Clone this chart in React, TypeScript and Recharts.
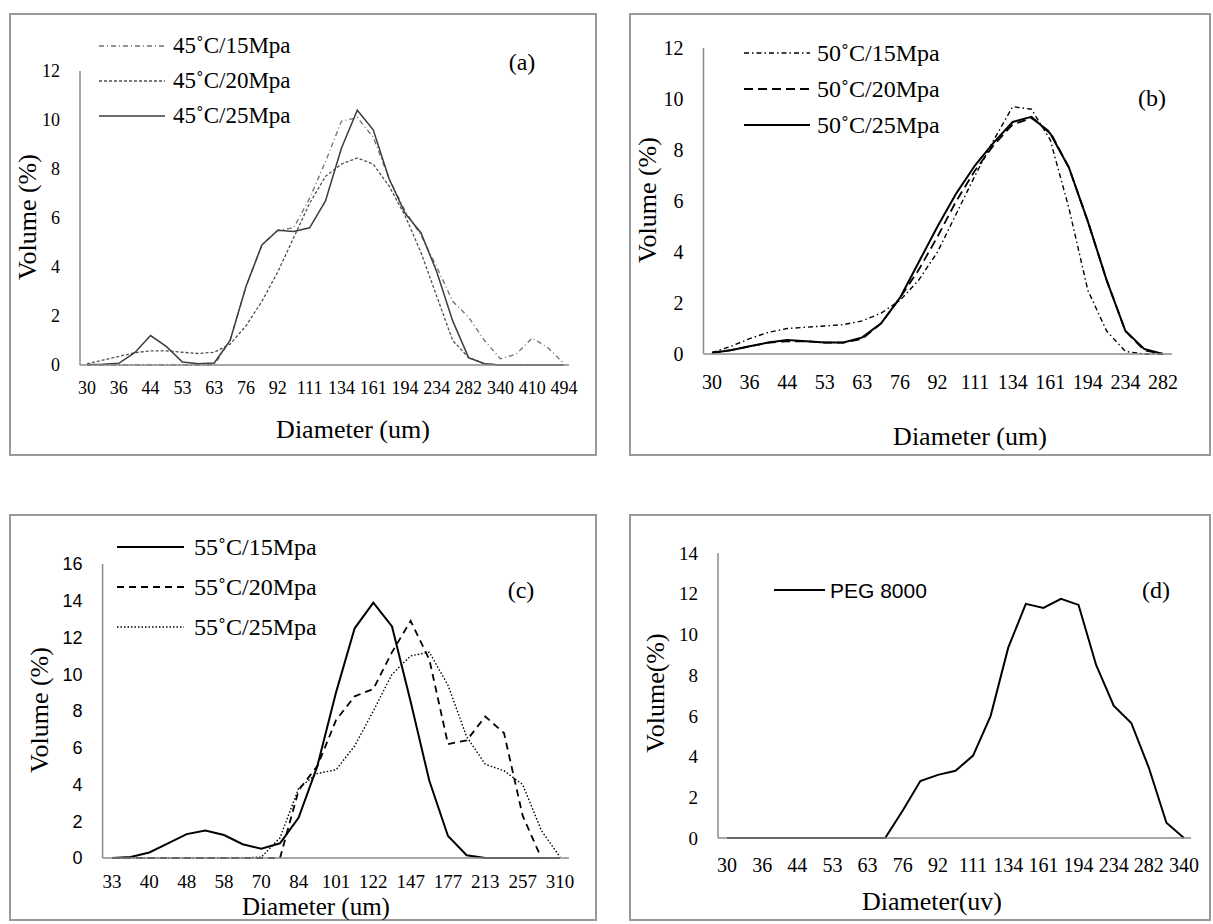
import React from 'react';
import { LineChart, Line, XAxis, YAxis, Legend } from 'recharts';

const SERIF = '"Liberation Serif", "Times New Roman", serif';
const SANS = '"Liberation Sans", Arial, sans-serif';

// (a) 45°C
const diamA = [30, 33, 36, 40, 44, 48, 53, 58, 63, 70, 76, 84, 92, 101, 111, 122, 134, 147, 161, 177, 194, 213, 234, 257, 282, 310, 340, 373, 410, 450, 494];
const a15 = [0, 0, 0, 0, 0, 0, 0, 0, 0, 1.0, 3.2, 4.9, 5.5, 5.6, 6.8, 8.3, 9.95, 10.1, 9.3, 7.6, 6.3, 5.3, 4.0, 2.6, 1.95, 1.0, 0.25, 0.45, 1.1, 0.7, 0.05];
const a20 = [0.05, 0.2, 0.35, 0.5, 0.58, 0.58, 0.52, 0.47, 0.52, 0.85, 1.6, 2.6, 3.8, 5.2, 6.6, 7.7, 8.2, 8.45, 8.2, 7.3, 6.1, 4.6, 2.8, 1.0, 0.3, 0.05, 0, 0, 0, 0, 0];
const a25 = [0.02, 0.03, 0.07, 0.5, 1.2, 0.75, 0.12, 0.05, 0.08, 1.0, 3.2, 4.9, 5.5, 5.45, 5.6, 6.7, 8.85, 10.4, 9.6, 7.6, 6.2, 5.4, 3.8, 1.8, 0.3, 0.05, 0, 0, 0, 0, 0];

// (b) 50°C
const diamB = [30, 33, 36, 40, 44, 48, 53, 58, 63, 70, 76, 84, 92, 101, 111, 122, 134, 147, 161, 177, 194, 213, 234, 257, 282];
const b15 = [0.05, 0.3, 0.6, 0.85, 1.0, 1.05, 1.1, 1.15, 1.3, 1.6, 2.1, 2.9, 4.0, 5.5, 7.0, 8.4, 9.7, 9.6, 8.4, 5.7, 2.5, 0.9, 0.1, 0, 0];
const b20 = [0.05, 0.15, 0.3, 0.45, 0.5, 0.5, 0.45, 0.45, 0.6, 1.2, 2.2, 3.3, 4.6, 6.0, 7.2, 8.2, 9.0, 9.25, 8.7, 7.3, 5.2, 2.9, 0.9, 0.15, 0];
const b25 = [0.05, 0.15, 0.3, 0.45, 0.55, 0.5, 0.45, 0.45, 0.65, 1.2, 2.2, 3.6, 5.0, 6.3, 7.4, 8.3, 9.1, 9.3, 8.65, 7.3, 5.2, 2.9, 0.9, 0.2, 0];

// (c) 55°C
const diamC = [33, 36, 40, 44, 48, 53, 58, 63, 70, 76, 84, 92, 101, 111, 122, 134, 147, 161, 177, 194, 213, 234, 257, 282, 310];
const c15 = [0, 0.05, 0.3, 0.8, 1.3, 1.5, 1.25, 0.75, 0.5, 0.8, 2.2, 5.0, 9.0, 12.5, 13.9, 12.6, 8.5, 4.2, 1.2, 0.15, 0, 0, 0, 0, 0];
const c20 = [0, 0, 0, 0, 0, 0, 0, 0, 0, 0, 3.7, 5.0, 7.5, 8.8, 9.2, 11.2, 12.9, 10.8, 6.2, 6.4, 7.7, 6.8, 2.3, 0, 0];
const c25 = [0, 0, 0, 0, 0, 0, 0, 0, 0.05, 1.1, 3.8, 4.6, 4.8, 6.1, 8.0, 10.0, 11.0, 11.2, 9.4, 6.6, 5.1, 4.75, 4.0, 1.5, 0.05];

// (d) PEG 8000
const diamD = [30, 33, 36, 40, 44, 48, 53, 58, 63, 70, 76, 84, 92, 101, 111, 122, 134, 147, 161, 177, 194, 213, 234, 257, 282, 310, 340];
const peg = [0, 0, 0, 0, 0, 0, 0, 0, 0, 0, 1.35, 2.8, 3.1, 3.3, 4.05, 6.0, 9.35, 11.5, 11.3, 11.75, 11.45, 8.5, 6.5, 5.65, 3.45, 0.75, 0];

const ticks12 = [0, 2, 4, 6, 8, 10, 12];
const ticks14 = [0, 2, 4, 6, 8, 10, 12, 14];
const ticks16 = [0, 2, 4, 6, 8, 10, 12, 14, 16];

const rowsA = diamA.map((d, i) => ({ d: String(d), s15: a15[i], s20: a20[i], s25: a25[i] }));
const rowsB = diamB.map((d, i) => ({ d: String(d), s15: b15[i], s20: b20[i], s25: b25[i] }));
const rowsC = diamC.map((d, i) => ({ d: String(d), s15: c15[i], s20: c20[i], s25: c25[i] }));
const rowsD = diamD.map((d, i) => ({ d: String(d), peg: peg[i] }));

type Series = { key: string; name: string; color: string; width: number; dash?: string };

type PanelProps = {
  box: { left: number; top: number; width: number; height: number };
  data: any[];
  series: Series[];
  margin: { top: number; right: number; bottom: number; left: number };
  yTicks: number[];
  pad: { left: number; right: number };
  xFont: number;
  yFont: number;
  yFamily: string;
  xGap: number;
  legend: { left: number; top: number; row: number; line: number; gap: number; font: number; family: string };
};

const AXIS = '#8a8a8a';

const Panel = ({ box, data, series, margin, yTicks, pad, xFont, yFont, yFamily, xGap, legend }: PanelProps) => {
  const renderLegend = () => (
    <div>
      {series.map((s) => (
        <div key={s.key} style={{ display: 'flex', alignItems: 'center', height: legend.row }}>
          <svg width={legend.line} height={4} style={{ display: 'block' }}>
            <line x1={0} y1={2} x2={legend.line} y2={2} stroke={s.color} strokeWidth={s.width} strokeDasharray={s.dash} />
          </svg>
          <span
            style={{
              marginLeft: legend.gap,
              fontFamily: legend.family,
              fontSize: legend.font,
              color: '#000',
              whiteSpace: 'nowrap',
              lineHeight: 1,
            }}
          >
            {s.name}
          </span>
        </div>
      ))}
    </div>
  );

  return (
    <div style={{ position: 'absolute', left: box.left, top: box.top }}>
      <LineChart width={box.width} height={box.height} data={data} margin={margin}>
        <XAxis
          dataKey="d"
          interval={1}
          tickLine={false}
          axisLine={{ stroke: AXIS, strokeWidth: 1.5 }}
          padding={pad}
          height={40}
          tickMargin={xGap}
          tick={{ fill: '#000', fontSize: xFont, fontFamily: SERIF }}
        />
        <YAxis
          type="number"
          domain={[yTicks[0], yTicks[yTicks.length - 1]]}
          ticks={yTicks}
          interval={0}
          width={50}
          tickLine={false}
          tickMargin={14}
          axisLine={{ stroke: AXIS, strokeWidth: 1.5 }}
          tick={{ fill: '#000', fontSize: yFont, fontFamily: yFamily }}
        />
        <Legend
          layout="vertical"
          align="center"
          verticalAlign="middle"
          content={renderLegend}
          wrapperStyle={{ left: legend.left, top: legend.top, width: 'auto' }}
        />
        {series.map((s) => (
          <Line
            key={s.key}
            type="linear"
            dataKey={s.key}
            name={s.name}
            stroke={s.color}
            strokeWidth={s.width}
            strokeDasharray={s.dash}
            dot={false}
            isAnimationActive={false}
          />
        ))}
      </LineChart>
    </div>
  );
};

const Txt = ({ x, y, size, children, rotate, family }: any) => (
  <div
    style={{
      position: 'absolute',
      left: x,
      top: y,
      transform: `translate(-50%, -50%)${rotate ? ' rotate(-90deg)' : ''}`,
      fontFamily: family || SERIF,
      fontSize: size,
      whiteSpace: 'nowrap',
      lineHeight: 1,
      color: '#000',
    }}
  >
    {children}
  </div>
);

const Frame = ({ left, top, width, height }: any) => (
  <div
    style={{
      position: 'absolute',
      left,
      top,
      width,
      height,
      boxSizing: 'border-box',
      border: '2px solid #999',
    }}
  />
);

export default function App() {
  const boxA = { left: 9, top: 13, width: 588, height: 443 };
  const boxB = { left: 629, top: 13, width: 582, height: 443 };
  const boxC = { left: 9, top: 514, width: 588, height: 407 };
  const boxD = { left: 629, top: 514, width: 582, height: 407 };

  const seriesA: Series[] = [
    { key: 's15', name: '45˚C/15Mpa', color: '#707070', width: 1.3, dash: '5 3 1 3' },
    { key: 's20', name: '45˚C/20Mpa', color: '#505050', width: 1.3, dash: '3 2' },
    { key: 's25', name: '45˚C/25Mpa', color: '#3c3c3c', width: 1.5 },
  ];
  const seriesB: Series[] = [
    { key: 's15', name: '50˚C/15Mpa', color: '#000', width: 1.4, dash: '5 3 1.5 3' },
    { key: 's20', name: '50˚C/20Mpa', color: '#000', width: 1.8, dash: '9 5' },
    { key: 's25', name: '50˚C/25Mpa', color: '#000', width: 2 },
  ];
  const seriesC: Series[] = [
    { key: 's15', name: '55˚C/15Mpa', color: '#000', width: 2 },
    { key: 's20', name: '55˚C/20Mpa', color: '#000', width: 1.8, dash: '7 5' },
    { key: 's25', name: '55˚C/25Mpa', color: '#000', width: 1.4, dash: '1.5 2' },
  ];
  const seriesD: Series[] = [{ key: 'peg', name: 'PEG 8000', color: '#000', width: 2 }];

  return (
    <div style={{ position: 'absolute', left: 0, top: 0, width: 1213, height: 924, background: '#fff', overflow: 'hidden' }}>
      <Frame {...boxA} />
      <Frame {...boxB} />
      <Frame {...boxC} />
      <Frame {...boxD} />

      <Panel
        box={boxA}
        data={rowsA}
        series={seriesA}
        margin={{ top: 58, right: 28, bottom: 51, left: 21 }}
        yTicks={ticks12}
        pad={{ left: 7, right: 5 }}
        xFont={18}
        yFont={18}
        yFamily={SERIF}
        xGap={10}
        legend={{ left: 90, top: 15, row: 35, line: 66, gap: 8, font: 23, family: SERIF }}
      />
      <Panel
        box={boxB}
        data={rowsB}
        series={seriesB}
        margin={{ top: 35, right: 39, bottom: 62, left: 24.5 }}
        yTicks={ticks12}
        pad={{ left: 8.5, right: 9 }}
        xFont={20}
        yFont={20}
        yFamily={SERIF}
        xGap={15}
        legend={{ left: 115, top: 22, row: 36, line: 66, gap: 7, font: 24, family: SERIF }}
      />
      <Panel
        box={boxC}
        data={rowsC}
        series={seriesC}
        margin={{ top: 50, right: 28, bottom: 23, left: 43.6 }}
        yTicks={ticks16}
        pad={{ left: 9.4, right: 9 }}
        xFont={19}
        yFont={18}
        yFamily={SANS}
        xGap={11}
        legend={{ left: 108, top: 13, row: 40, line: 67, gap: 10, font: 24, family: SERIF }}
      />
      <Panel
        box={boxD}
        data={rowsD}
        series={seriesD}
        margin={{ top: 39, right: 20, bottom: 43, left: 39 }}
        yTicks={ticks14}
        pad={{ left: 9, right: 7 }}
        xFont={20}
        yFont={19}
        yFamily={SERIF}
        xGap={14}
        legend={{ left: 145, top: 58, row: 36, line: 51, gap: 5, font: 21, family: SANS }}
      />

      <Txt x={522} y={62} size={24}>(a)</Txt>
      <Txt x={1152} y={98} size={24}>(b)</Txt>
      <Txt x={521} y={590} size={24}>(c)</Txt>
      <Txt x={1156} y={590} size={24}>(d)</Txt>

      <Txt x={353} y={430} size={26}>Diameter (um)</Txt>
      <Txt x={970} y={437} size={26}>Diameter (um)</Txt>
      <Txt x={316} y={906} size={25}>Diameter (um)</Txt>
      <Txt x={932} y={902} size={26}>Diameter(uv)</Txt>

      <Txt x={28} y={217} size={26} rotate>Volume (%)</Txt>
      <Txt x={648} y={200} size={26} rotate>Volume (%)</Txt>
      <Txt x={40} y={710} size={26} rotate>Volume (%)</Txt>
      <Txt x={656} y={693} size={26} rotate>Volume(%)</Txt>
    </div>
  );
}
